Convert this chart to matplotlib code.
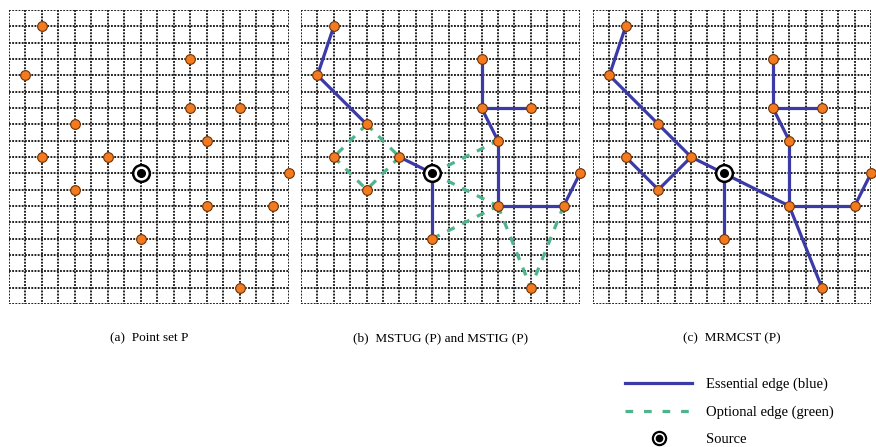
import matplotlib.pyplot as plt
from matplotlib.lines import Line2D

plt.rcParams['font.family'] = ['Liberation Serif', 'DejaVu Serif']

# grid size (cells)
n_cols = 17
n_rows = 18

# point set P (grid column, grid row from top); last one is the source
node_x = [2, 1, 11, 11, 14, 4, 12, 2, 6, 17, 4, 12, 16, 8, 14, 8]
node_y = [1, 4, 3, 6, 6, 7, 8, 9, 9, 10, 11, 12, 12, 14, 17, 10]
src = 15

# (b) MSTUG / MSTIG
b_essential = [(0, 1), (1, 5), (8, 15), (15, 13), (2, 3), (3, 4), (3, 6),
               (6, 11), (11, 12), (12, 9)]
b_optional = [(5, 7), (5, 8), (7, 10), (8, 10), (15, 6), (15, 11), (13, 11),
              (11, 14), (12, 14)]

# (c) MRMCST
c_edges = [(0, 1), (1, 5), (5, 8), (8, 15), (7, 10), (10, 8), (15, 13),
           (15, 11), (11, 14), (11, 12), (12, 9), (11, 6), (6, 3), (3, 2), (3, 4)]

captions = ['(a)  Point set P', '(b)  MSTUG (P) and MSTIG (P)', '(c)  MRMCST (P)']

blue = '#3b3aa6'
green = '#4fb48c'
orange = '#f47a1f'

W, H = 876, 447
fig = plt.figure(figsize=(W / 100, H / 100), dpi=100)

# panel pixel extents (col 0 .. col 17)
panel_x0 = [9, 301, 593]
panel_x1 = [289, 580, 871]
y_top, y_bot = 10, 304


def draw_edges(ax, edges, **kw):
    for i, j in edges:
        ax.plot([node_x[i], node_x[j]], [node_y[i], node_y[j]], zorder=3,
                solid_capstyle='butt', **kw)


axes = []
for k in range(3):
    ax = fig.add_axes([panel_x0[k] / W, 1 - y_bot / H,
                       (panel_x1[k] - panel_x0[k]) / W, (y_bot - y_top) / H])
    ax.set_xlim(0, n_cols)
    ax.set_ylim(n_rows, 0)
    ax.axis('off')
    ax.vlines(range(n_cols + 1), 0, n_rows, colors='#1a1a1a', lw=1.35,
              linestyles=(0, (1.0, 0.7)), zorder=1)
    ax.hlines(range(n_rows + 1), 0, n_cols, colors='#1a1a1a', lw=1.35,
              linestyles=(0, (1.0, 0.7)), zorder=1)
    axes.append(ax)
    fig.text((panel_x0[k] + panel_x1[k]) / 2 / W, 1 - 338 / H, captions[k],
             ha='center', va='center', fontsize=9.5)

draw_edges(axes[1], b_essential, color=blue, lw=2.3)
draw_edges(axes[1], b_optional, color=green, lw=2.3, dashes=(2.6, 2.6))
draw_edges(axes[2], c_edges, color=blue, lw=2.3)

for ax in axes:
    xs = [x for i, x in enumerate(node_x) if i != src]
    ys = [y for i, y in enumerate(node_y) if i != src]
    ax.plot(xs, ys, 'o', ms=7, mfc=orange, mec='#6a3308', mew=0.8,
            zorder=5, clip_on=False)
    ax.plot(node_x[src], node_y[src], 'o', ms=12, mfc='white', mec='black',
            mew=1.8, zorder=6, clip_on=False)
    ax.plot(node_x[src], node_y[src], 'o', ms=5.5, mfc='black', mec='black',
            zorder=7, clip_on=False)

h_ess = Line2D([], [], color=blue, lw=2.3)
h_opt = Line2D([], [], color=green, lw=2.3, dashes=(2.4, 3.4))
h_src_ring = Line2D([], [], ls='none', marker='o', ms=9.5, mfc='white',
                    mec='black', mew=1.6)
h_src_dot = Line2D([], [], ls='none', marker='o', ms=4.5, mfc='black', mec='black')
fig.legend([h_ess, h_opt, (h_src_ring, h_src_dot)],
           ['Essential edge (blue)', 'Optional edge (green)', 'Source'],
           loc='upper left', bbox_to_anchor=(625 / W, 1 - 378 / H),
           frameon=False, fontsize=10.5, handlelength=4.6, handletextpad=0.95,
           labelspacing=0.95, borderpad=0, borderaxespad=0)

fig.savefig('out.png', dpi=100)
